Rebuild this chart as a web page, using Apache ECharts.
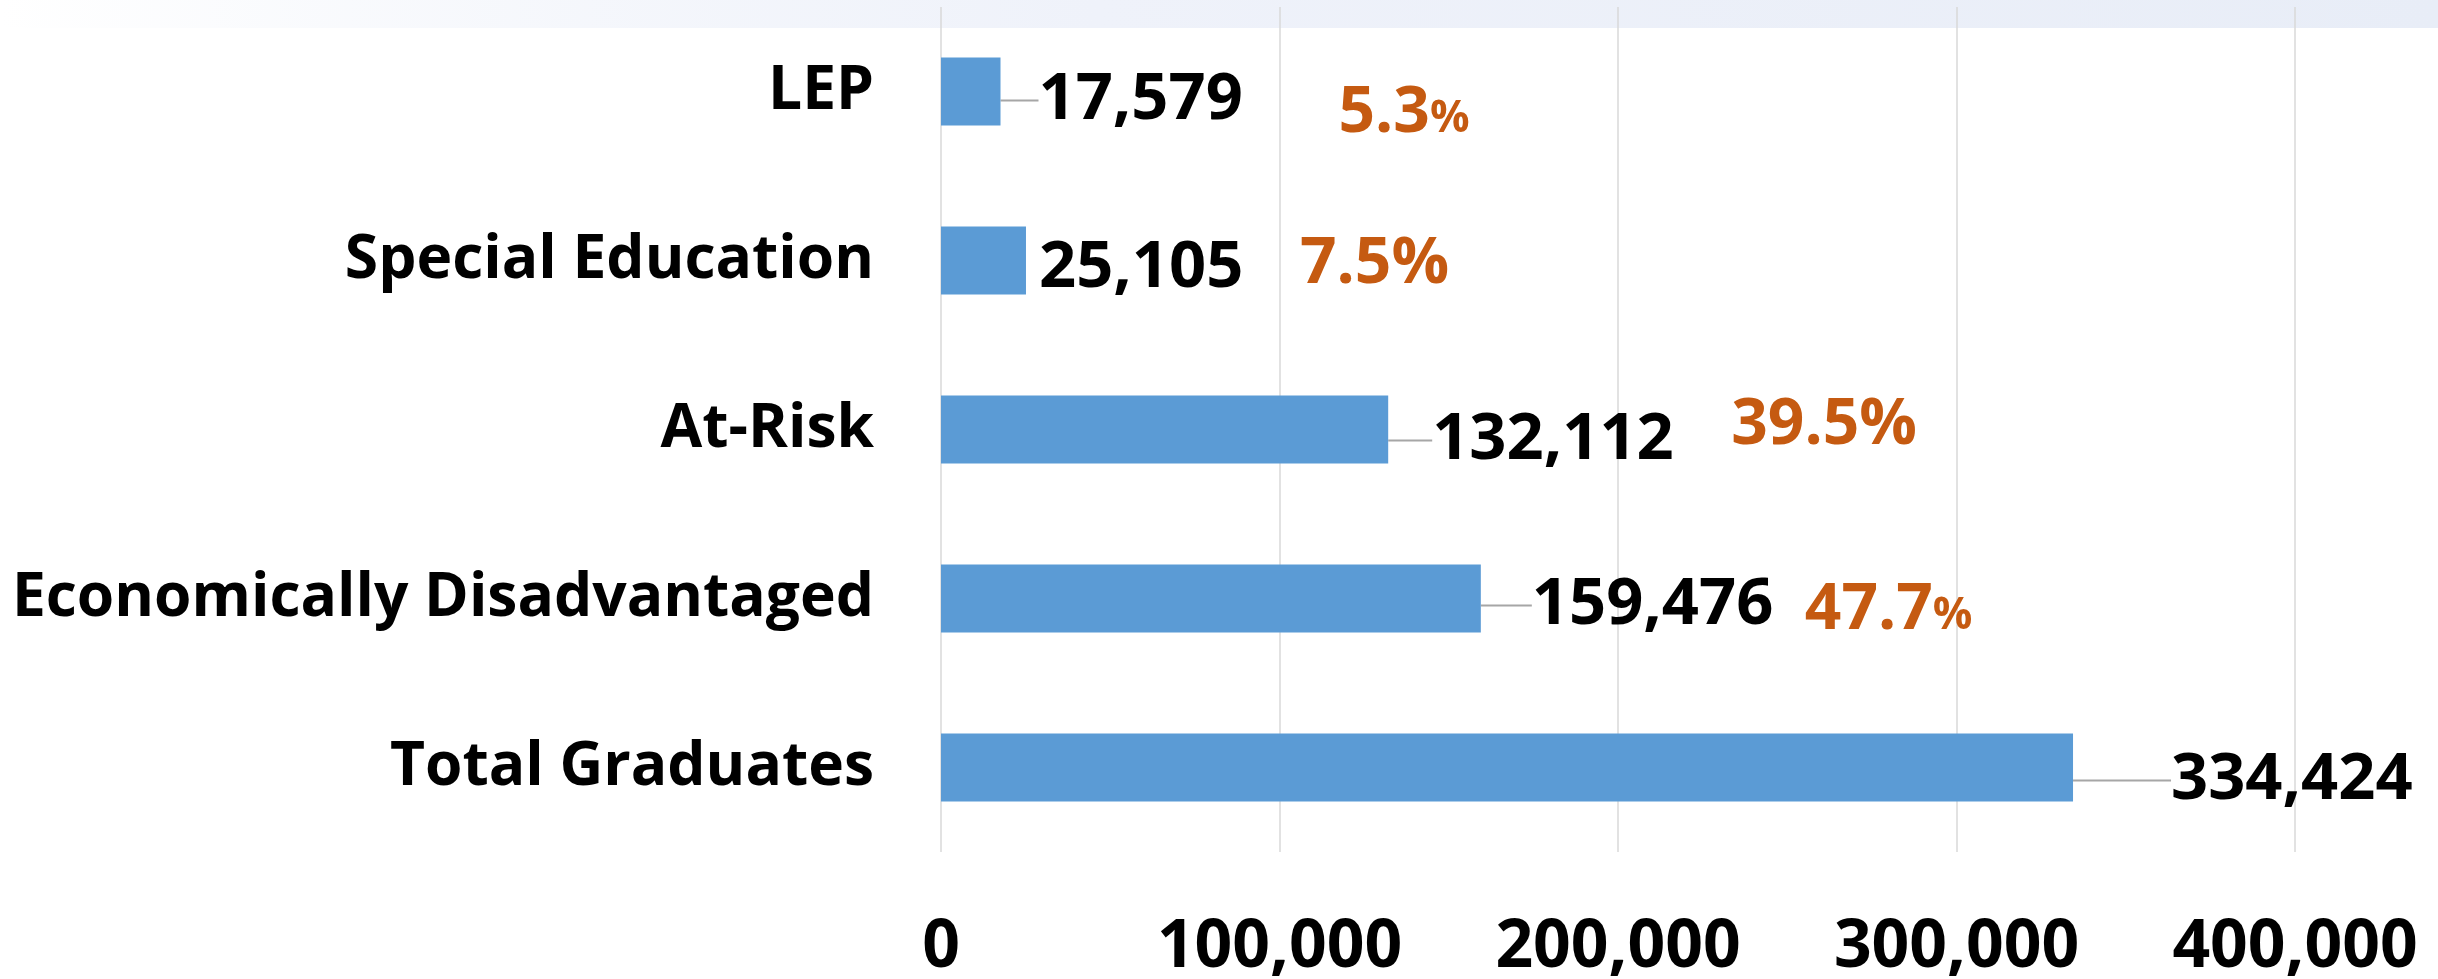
<!DOCTYPE html>
<html>
<head>
<meta charset="utf-8">
<script src="https://cdn.jsdelivr.net/npm/echarts@6/dist/echarts.min.js"></script>
<style>
    html, body { margin: 0; padding: 0; background: #fff; }
    #chart { width: 2438px; height: 979px; }
</style>
</head>
<body>
<div id="chart"></div>
<script>
// categories top to bottom
const categories = ['LEP', 'Special Education', 'At-Risk', 'Economically Disadvantaged', 'Total Graduates'];
const students = [17579, 25105, 132112, 159476, 334424];
const shareOfTotal = ['5.3', '7.5', '39.5', '47.7', null];
const xTicks = [0, 100000, 200000, 300000, 400000];

// label nudges (px)
const valueShift = [[33, 9], [8, 8], [39, 11], [46, 7], [93, 13]];
const pctShift = [[333, 22], [269, 4], [338, -4], [319, 12]];
const smallPct = [true, false, false, true];

const FONT = '"Open Sans", "Noto Sans", sans-serif';

function formatNumber(num) {
    return num.toString().replace(/(\d)(?=(\d{3})+(?!\d))/g, '$1,');
}

const chart = echarts.init(document.getElementById('chart'), null, {renderer: 'canvas'});

const option = {
    animation: false,
    backgroundColor: '#fff',
    graphic: [{
        // faint band across the top of the slide
        type: 'rect',
        z: -10,
        shape: {x: 0, y: 0, width: 2438, height: 28},
        style: {
            fill: new echarts.graphic.LinearGradient(0, 0, 1, 0, [
                {offset: 0, color: 'rgba(233,238,248,0)'},
                {offset: 0.45, color: '#EFF2FA'},
                {offset: 1, color: '#E8EDF7'}
            ])
        }
    }],
    grid: {left: 941, right: 143, top: 7, bottom: 127, containLabel: false, outerBoundsMode: 'none'},
    xAxis: {
        type: 'value',
        min: xTicks[0],
        max: xTicks[xTicks.length - 1],
        interval: xTicks[1] - xTicks[0],
        axisLine: {show: false},
        axisTick: {show: false},
        splitLine: {show: true, lineStyle: {color: '#D9D9D9', width: 1.5}},
        axisLabel: {
            margin: 63,
            color: '#000',
            fontFamily: FONT,
            fontWeight: 'bold',
            fontSize: 66,
            formatter: v => formatNumber(v)
        }
    },
    yAxis: {
        type: 'category',
        inverse: true,
        data: categories,
        axisLine: {show: false},
        axisTick: {show: false},
        axisLabel: {
            margin: 67,
            color: '#000',
            fontFamily: FONT,
            fontWeight: 'bold',
            fontSize: 60.5,
            padding: [9, 0, 0, 0]
        }
    },
    series: [
        {
            type: 'bar',
            barWidth: 68,
            data: students.map((v, i) => ({
                value: v,
                labelLine: {show: i != 1}
            })),
            itemStyle: {color: '#5B9BD5'},
            label: {
                show: true,
                position: 'right',
                distance: 5,
                color: '#000',
                fontFamily: FONT,
                fontWeight: 'bold',
                fontSize: 65,
                formatter: p => formatNumber(p.value)
            },
            labelLine: {show: true, lineStyle: {color: '#A6A6A6', width: 2}},
            labelLayout: function (params) {
                const s = valueShift[params.dataIndex];
                return {dx: s[0], dy: s[1]};
            }
        },
        {
            // invisible twin of the bars, only carries the share labels
            type: 'bar',
            barWidth: 68,
            barGap: '-100%',
            silent: true,
            data: students.slice(0, 4),
            itemStyle: {color: 'rgba(0,0,0,0)'},
            label: {
                show: true,
                position: 'right',
                distance: 5,
                formatter: p => {
                    const pct = shareOfTotal[p.dataIndex];
                    return smallPct[p.dataIndex] ? `{n|${pct}}{s|%}` : `{n|${pct}%}`;
                },
                rich: {
                    n: {color: '#C55A11', fontFamily: FONT, fontWeight: 'bold', fontSize: 64, verticalAlign: 'bottom'},
                    s: {color: '#C55A11', fontFamily: FONT, fontWeight: 'bold', fontSize: 44, verticalAlign: 'bottom', padding: [0, 0, 4, 0]}
                }
            },
            labelLayout: function (params) {
                const s = pctShift[params.dataIndex];
                return {dx: s[0], dy: s[1]};
            }
        }
    ]
};

chart.setOption(option);
</script>
</body>
</html>
